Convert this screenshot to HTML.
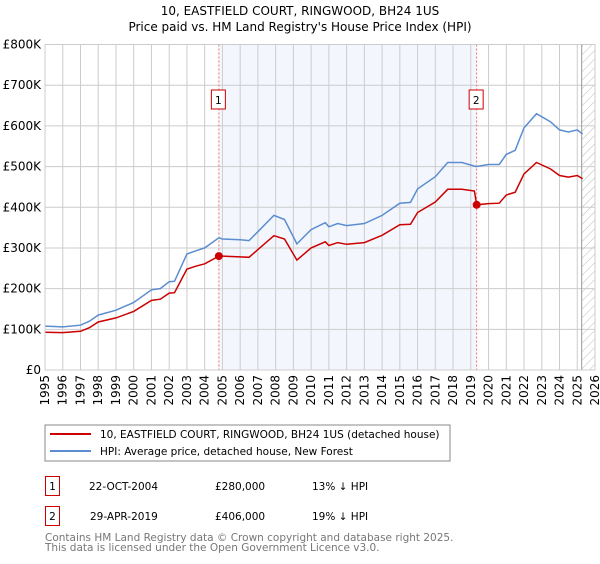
<!DOCTYPE html>
<html><head><meta charset="utf-8"><style>
body{margin:0;background:#fff;width:600px;height:560px;overflow:hidden;font-family:"DejaVu Sans","Liberation Sans",sans-serif}
svg text{font-family:"DejaVu Sans","Liberation Sans",sans-serif}
</style></head><body>
<svg id="c" width="600" height="560" xmlns="http://www.w3.org/2000/svg">
<defs><pattern id="hatch" width="6" height="6" patternUnits="userSpaceOnUse" patternTransform="rotate(45)"><line x1="0" y1="0" x2="0" y2="6" stroke="#bbb" stroke-width="1"/></pattern></defs>
<text x="300" y="15" text-anchor="middle" font-size="12">10, EASTFIELD COURT, RINGWOOD, BH24 1US</text>
<text x="300" y="31" text-anchor="middle" font-size="12">Price paid vs. HM Land Registry's House Price Index (HPI)</text>
<g id="plot"></g>
<rect x="45" y="425" width="405" height="36" fill="#fff" stroke="#888"/>
<line x1="50" y1="434" x2="91" y2="434" stroke="#cc0000" stroke-width="2"/>
<text x="100" y="438" font-size="10.5">10, EASTFIELD COURT, RINGWOOD, BH24 1US (detached house)</text>
<line x1="50" y1="451" x2="91" y2="451" stroke="#5b8dd0" stroke-width="2"/>
<text x="100" y="455" font-size="10.5">HPI: Average price, detached house, New Forest</text>
<rect x="45.5" y="476.5" width="14" height="19" fill="#fff" stroke="#cc0000"/>
<text x="52.5" y="490" font-size="10.5" text-anchor="middle">1</text>
<text x="89" y="490" font-size="10.5">22-OCT-2004</text>
<text x="215" y="490" font-size="10.5">£280,000</text>
<text x="312" y="490" font-size="10.5">13% ↓ HPI</text>
<rect x="45.5" y="506.5" width="14" height="19" fill="#fff" stroke="#cc0000"/>
<text x="52.5" y="520" font-size="10.5" text-anchor="middle">2</text>
<text x="90" y="520" font-size="10.5">29-APR-2019</text>
<text x="215" y="520" font-size="10.5">£406,000</text>
<text x="312" y="520" font-size="10.5">19% ↓ HPI</text>
<text x="45" y="541" font-size="10.5" fill="#777">Contains HM Land Registry data © Crown copyright and database right 2025.</text>
<text x="45" y="551" font-size="10.5" fill="#777">This data is licensed under the Open Government Licence v3.0.</text>
</svg>
<script>
const hpiYears=[1995,1996,1997,1997.5,1998,1999,2000,2001,2001.5,2002,2002.3,2003,2003.5,2004,2004.8,2005,2006,2006.5,2007,2007.9,2008.5,2009.2,2010,2010.8,2011,2011.5,2012,2013,2014,2015,2015.6,2016,2017,2017.7,2018.5,2019.3,2020,2020.6,2021,2021.5,2022,2022.7,2023.5,2024,2024.5,2025,2025.3];
const hpiValues=[108,106,110,120,135,147,166,197,200,217,218,285,293,300,325,322,320,318,340,380,370,310,345,362,352,360,355,360,380,410,412,445,475,510,510,500,505,505,530,540,595,630,610,590,585,590,580];
const saleYears=[2004.8,2019.33];
const saleValues=[280,406];
const propYears=[1995,1996,1997,1997.5,1998,1999,2000,2001,2001.5,2002,2002.3,2003,2003.5,2004,2004.8,2005,2006,2006.5,2007,2007.9,2008.5,2009.2,2010,2010.8,2011,2011.5,2012,2013,2014,2015,2015.6,2016,2017,2017.7,2018.5,2019.2,2019.33,2020,2020.6,2021,2021.5,2022,2022.7,2023.5,2024,2024.5,2025,2025.3];
const propValues=[93,92,95,104,118,128,144,171,174,189,190,248,255,261,280,280,278,277,296,330,322,270,300,315,306,313,309,313,331,357,358,387,413,444,444,440,406,409,410,430,437,482,510,494,478,474,478,470];
const yTicks=[0,100,200,300,400,500,600,700,800];
const yTickLabels=["£0","£100K","£200K","£300K","£400K","£500K","£600K","£700K","£800K"];
const xTicks=[1995,1996,1997,1998,1999,2000,2001,2002,2003,2004,2005,2006,2007,2008,2009,2010,2011,2012,2013,2014,2015,2016,2017,2018,2019,2020,2021,2022,2023,2024,2025,2026];
const X0=45,X1=595,Y0=370,Y1=44.5;
const xs=y=>X0+(y-1995)/(2026-1995)*(X1-X0);
const ys=v=>Y0-v/800*(Y0-Y1);
const g=document.getElementById('plot');const NS='http://www.w3.org/2000/svg';
function mk(t,a){const e=document.createElementNS(NS,t);for(const k in a)e.setAttribute(k,a[k]);g.appendChild(e);return e;}
let e;
e=mk('rect',{x:xs(saleYears[0]),y:Y1,width:xs(saleYears[1])-xs(saleYears[0]),height:Y0-Y1,fill:'#eef3fc',opacity:0.7});


e=mk('rect',{x:xs(2025.25),y:Y1,width:X1-xs(2025.25),height:Y0-Y1,fill:'url(#hatch)'});


yTicks.forEach((v,i)=>{
 e=mk('line',{x1:X0,x2:X1,y1:ys(v),y2:ys(v),stroke:'#ccc'});
 
 
 e=mk('text',{x:X0-4,y:ys(v)+4,'text-anchor':'end','font-size':'12'});e.textContent=yTickLabels[i];
 
 
});
xTicks.forEach(yr=>{
 e=mk('line',{x1:xs(yr),x2:xs(yr),y1:Y1,y2:Y0,stroke:'#ccc'});
 
 
 e=mk('text',{x:0,y:0,'text-anchor':'end','font-size':'12',transform:`translate(${xs(yr)+4},${Y0+5}) rotate(-90)`});e.textContent=yr;
 
 
});
e=mk('line',{x1:xs(2025.25),x2:xs(2025.25),y1:Y1,y2:Y0,stroke:'#999'});


saleYears.forEach((yr,i)=>{
 e=mk('line',{x1:xs(yr),x2:xs(yr),y1:Y1,y2:Y0,stroke:'#f07070','stroke-dasharray':'2,2'});
 
 
 e=mk('rect',{x:xs(yr)-7.5,y:90,width:14,height:19,fill:'#fff',stroke:'#cc0000'});
 
 
 e=mk('text',{x:xs(yr)-0.5,y:104,'text-anchor':'middle','font-size':'10.5'});e.textContent=String(i+1);
 
 
});
function pts(a,b){return a.map((y,i)=>xs(y).toFixed(1)+','+ys(b[i]).toFixed(1)).join(' ');}
e=mk('polyline',{points:pts(hpiYears,hpiValues),fill:'none',stroke:'#5b8dd0','stroke-width':1.5});


e=mk('polyline',{points:pts(propYears,propValues),fill:'none',stroke:'#cc0000','stroke-width':1.5});


saleYears.forEach((yr,i)=>{
 e=mk('circle',{cx:xs(yr),cy:ys(saleValues[i]),r:4,fill:'#cc0000'});
 
 
});
e=mk('rect',{x:X0,y:Y1,width:X1-X0,height:Y0-Y1,fill:'none',stroke:'#ccc'});


</script>
</body></html>
